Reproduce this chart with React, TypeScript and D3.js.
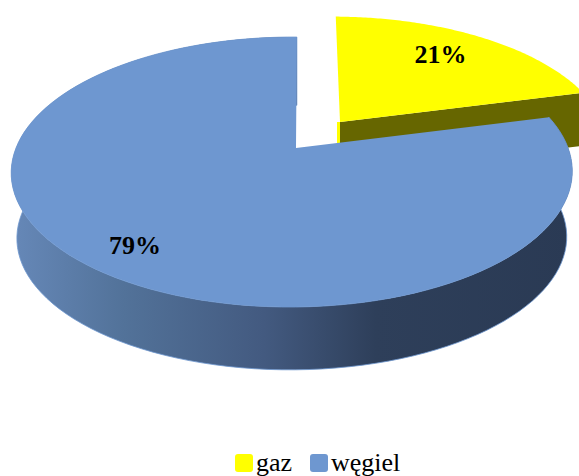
import React from "react";
import * as d3 from "d3";

const categories = ["gaz", "węgiel"];
const shares = [21, 79];
const sliceColors = ["#ffff00", "#6e97d0"];
const wallColors = ["#666600", "url(#wallShade)"];
const labelSpots = [
  { along: 0.47, r: 0.74 },
  { along: 0.5, r: 0.83 },
];

const width = 579;
const height = 476;

// tilted disc: homography of the unit circle, apex is not the middle of the ellipse
type Plane = { x: number; y: number; a: number; b: number; scale: number; shear: number };

const coal: Plane = { x: 296, y: 148, a: 130.7, b: 276, scale: 1, shear: 1 };
const gas: Plane = { x: 340, y: 122, a: 130.7, b: 281, scale: 0.95, shear: -5 };

const project = (p: Plane, angle: number, r: number, drop = 0, shrink = 1): [number, number] => {
  const u = Math.sin(angle) * r;
  const v = Math.cos(angle) * r;
  const w = 1 + 0.0143 * u + 0.178 * v;
  const k = p.scale * shrink;
  return [p.x + (k * p.b * u + p.shear * v) / w, p.y + drop - (k * p.a * v) / w];
};

const line = d3.line<[number, number]>();
const pie = d3.pie<number>().sort(null);

const rim = (p: Plane, start: number, end: number, drop = 0, shrink = 1) =>
  d3.range(0, 121).map((i) => {
    const t = d3.scaleLinear().domain([0, 120]).range([start, end]);
    return project(p, t(i), 1, drop, shrink);
  });

const App = () => {
  const arcs = pie(shares);
  const [gasArc, coalArc] = arcs;

  const topFace = (p: Plane, d: d3.PieArcDatum<number>) =>
    line([[p.x, p.y], ...rim(p, d.startAngle, d.endAngle)]) + "Z";

  const coalWall =
    line([
      ...rim(coal, coalArc.startAngle, coalArc.endAngle),
      ...rim(coal, coalArc.startAngle, coalArc.endAngle, 66, 0.98).reverse(),
    ]) + "Z";

  const gasEnd = project(gas, gasArc.endAngle, 1);
  const gasWall =
    line([[gas.x, gas.y], gasEnd, [gasEnd[0], gasEnd[1] + 53], [gas.x, gas.y + 53]]) + "Z";
  const gasSliver =
    line([[gas.x, gas.y], [gas.x, gas.y + 30], [gas.x - 3, gas.y + 30], [gas.x - 3, gas.y]]) + "Z";

  const planes = [gas, coal];
  const labelAt = arcs.map((d, i) =>
    project(
      planes[i],
      d.startAngle + (d.endAngle - d.startAngle) * labelSpots[i].along,
      labelSpots[i].r,
    ),
  );

  return (
    <svg
      width={width}
      height={height}
      style={{ position: "absolute", left: 0, top: 0 }}
      fontFamily="'Liberation Serif', serif"
    >
      <defs>
        <linearGradient id="wallShade" gradientUnits="userSpaceOnUse" x1={12} x2={572} y1={0} y2={0}>
          <stop offset="0" stopColor="#6688b8" />
          <stop offset="0.2" stopColor="#527299" />
          <stop offset="0.45" stopColor="#435a80" />
          <stop offset="0.65" stopColor="#2e3f5a" />
          <stop offset="1" stopColor="#2a3a54" />
        </linearGradient>
      </defs>

      <path d={gasSliver} fill={sliceColors[0]} />
      <path d={gasWall} fill={wallColors[0]} />
      <path d={topFace(gas, gasArc)} fill={sliceColors[0]} />

      <path d={coalWall} fill={wallColors[1]} stroke="#6e97d0" strokeWidth={1} strokeOpacity={0.8} />
      <path d={topFace(coal, coalArc)} fill={sliceColors[1]} />

      {arcs.map((d, i) => (
        <text
          key={categories[i]}
          x={labelAt[i][0]}
          y={labelAt[i][1]}
          dy="0.33em"
          textAnchor="middle"
          fontSize={26}
          fontWeight="bold"
          fill="#000"
        >
          {d.value}%
        </text>
      ))}

      {categories.map((c, i) => (
        <g key={c} transform={`translate(${i === 0 ? 235 : 310},454)`}>
          <rect width={18} height={18} rx={3} fill={sliceColors[i]} />
          <text x={21} y={17} fontSize={26} fill="#000">
            {c}
          </text>
        </g>
      ))}
    </svg>
  );
};

export default App;
